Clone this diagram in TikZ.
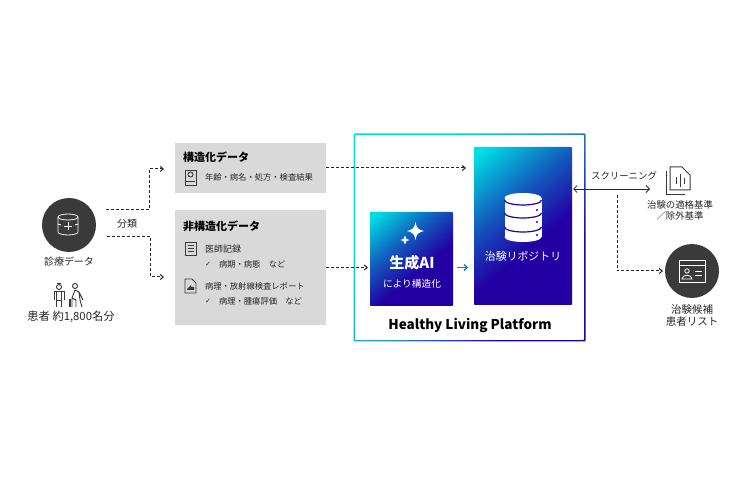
\documentclass[tikz,border=0pt]{standalone}
\usepackage{fontspec}
\setmainfont{Noto Sans CJK JP}
\newfontfamily\symfont{DejaVu Sans}
\usetikzlibrary{positioning, calc, arrows.meta}
\definecolor{graybox}{HTML}{D9D9D9}
\definecolor{darkdisc}{HTML}{3A3A3A}
\definecolor{txtgray}{HTML}{262626}
\definecolor{gradtop}{HTML}{00DCE4}
\definecolor{gradmid}{HTML}{1258BC}
\definecolor{gradend}{HTML}{2200A4}
\definecolor{arrowblue}{HTML}{1C7CC8}
\definecolor{framemid}{HTML}{2898CC}
\pgfdeclareverticalshading{gradfill}{100bp}{color(0bp)=(gradend); color(42bp)=(gradend); color(60bp)=(gradmid); color(82bp)=(gradtop); color(100bp)=(gradtop)}
\pgfdeclareverticalshading{gradframe}{100bp}{color(0bp)=(gradend); color(30bp)=(gradend); color(50bp)=(framemid); color(68bp)=(gradtop); color(100bp)=(gradtop)}
\begin{document}
\begin{tikzpicture}[x=1pt,y=-1pt,
  txt/.style={inner sep=0pt,outer sep=0pt,text=txtgray,font=\fontsize{8.3}{9}\selectfont},
  headtxt/.style={txt,text=black,font=\fontsize{11}{12}\selectfont\bfseries},
  sidetxt/.style={txt,font=\fontsize{10}{11}\selectfont},
  block/.style={rectangle,fill=graybox,inner sep=0pt,outer sep=0pt,minimum width=151pt},
  gradblock/.style={rectangle,rounded corners=0.8pt,inner sep=0pt,outer sep=0pt,shading=gradfill,shading angle=40},
  disc/.style={circle,fill=darkdisc,minimum size=54pt,inner sep=0pt,outer sep=0pt},
  dashline/.style={-{Straight Barb[length=3pt,width=5pt]},densely dashed,line width=1pt,black!85},
  icon/.style={line width=0.9pt,darkdisc}
]
\path [use as bounding box, fill=white] (0,0) rectangle (745,497);

\node (box1) [block, minimum height=50pt] at (250.5,168) {};
\node (box2) [block, minimum height=115pt] at (250.5,267.5) {};

% frame
\path [even odd rule, shading=gradframe, shading angle=50, rounded corners=1pt] (353.5,133.5) rectangle (585.5,341.5) (354.8,134.8) rectangle (584.2,340.2);

\node (ai) [gradblock, minimum width=83pt, minimum height=94pt] at (411.5,259) {};
\node (repo) [gradblock, minimum width=98pt, minimum height=158pt] at (523,226) {};

% left side
\node (data) [disc] at (69,225) {};
\node (datatxt) [sidetxt, below=5pt of data] {診療データ};
\node (patients) [sidetxt, font=\fontsize{11.3}{12}\selectfont] at (71,317) {患者 約1,800名分};
\node (bunrui) [sidetxt] at (127,224) {分類};

\begin{scope}[white, line width=0.8pt]
  \draw (68,217) ellipse (10 and 3);
  \draw (58,217) -- (58,232) arc[start angle=180,end angle=0,x radius=10,y radius=3] -- (78,217);
  \draw (58,224) -- (61,225) (78,224) -- (75,225);
  \draw (64,226) -- (72,226) (68,222) -- (68,230);
\end{scope}

% patient figures
\begin{scope}[icon]
  \draw (59,287) circle (2.5);
  \draw (57,283.5) -- (61,283.5);
  \draw (54,300) -- (54,291.5) -- (64,291.5) -- (64,300) (56.5,291.5) -- (56.5,307) (61.5,291.5) -- (61.5,307) (56.5,300) -- (61.5,300);
  \draw (75,286) circle (2.5);
  \draw (72,307) -- (72,298) -- (75,290) -- (79,292) -- (83,300) (79,292) -- (80,300) -- (82,307) (72,298) -- (76,300) -- (76,307);
  \draw [line width=1.3pt] (70,299) -- (70,307);
\end{scope}

% structured box
\node (head1) [headtxt, anchor=west] at (183,157) {構造化データ};
\node (item1) [txt, anchor=west] at (205,177) {年齢・病名・処方・検査結果};
\draw [icon] (185,170) rectangle (196,185) (186,181) -- (195,181);
\draw [icon] (190.5,174.5) circle (2.5);

% unstructured box
\node (head2) [headtxt, anchor=west] at (183,226) {非構造化データ};
\node (item2) [txt, anchor=west, font=\fontsize{9}{10}\selectfont] at (205,249) {医師記録};
\node (check2) [txt, anchor=west, font=\fontsize{7}{8}\symfont] at (205,264) {✓};
\node (sub2) [txt, anchor=west] at (219,264) {病期・病態　など};
\node (item3) [txt, anchor=west] at (205,286) {病理・放射線検査レポート};
\node (check3) [txt, anchor=west, font=\fontsize{7}{8}\symfont] at (205,301) {✓};
\node (sub3) [txt, anchor=west] at (219,301) {病理・腫瘍評価　など};
\draw [icon] (185,242) rectangle (196,255);
\foreach \y in {245.5,248.5,251.5} \draw [icon] (187.5,\y) -- (193.5,\y);
\draw [icon] (185,279) -- (192,279) -- (196,283) -- (196,293) -- (185,293) -- cycle;
\fill [darkdisc] (187,289) -- (191,285) -- (191,287) -- (194,287) -- (194,290) -- (187,290) -- cycle;

% generated AI box
\fill [white] (415.5,222) .. controls (416.5,228) and (418,229.5) .. (424,231) .. controls (418,232.5) and (416.5,234) .. (415.5,240) .. controls (414.5,234) and (413,232.5) .. (407,231) .. controls (413,229.5) and (414.5,228) .. (415.5,222) -- cycle;
\fill [white] (405,235.5) .. controls (405.5,238.5) and (406.5,239.5) .. (410,240) .. controls (406.5,240.5) and (405.5,241.5) .. (405,244.5) .. controls (404.5,241.5) and (403.5,240.5) .. (400,240) .. controls (403.5,239.5) and (404.5,238.5) .. (405,235.5) -- cycle;
\node (aititle) [txt, text=white, font=\fontsize{15}{17}\selectfont\bfseries] at (412,263) {生成AI};
\node (aisub) [txt, text=white, font=\fontsize{9.7}{11}\selectfont] at (412,284) {により構造化};

% repository box
\fill [white] (523,198) ellipse (18.5 and 5);
\fill [white] (504.5,198) rectangle (541.5,237);
\fill [white] (523,237) ellipse (18.5 and 5);
\foreach \y in {200,213,227} \draw [gradend, line width=1.2pt] (504.5,\y) arc[start angle=180,end angle=0,x radius=18.5,y radius=5];
\foreach \y in {210,222,235} \fill [gradend] (537,\y) circle (1.1);
\node (repotxt) [txt, text=white, font=\fontsize{10.9}{12}\selectfont] at (523,256) {治験リポジトリ};

\node (hlp) [txt, text=black, font=\fontsize{13.5}{15}\selectfont\bfseries] at (470,326) {Healthy Living Platform};

% right side
\coordinate (screenend) at (650,189);
\coordinate (screenmid) at (617,189);
\node (screentxt) [sidetxt, font=\fontsize{9.4}{10}\selectfont] at (624,176) {スクリーニング};
\begin{scope}[icon, line width=1pt]
  \draw (670,167) -- (682,167) -- (690,175) -- (690,190) -- (670,190) -- cycle;
  \draw (666,171) -- (666,195) -- (685,195);
  \draw (676,177) -- (676,184) (680,174) -- (680,187) (684,178) -- (684,184);
\end{scope}
\node (crit1) [txt, font=\fontsize{9.4}{10}\selectfont] at (680,205) {治験の適格基準};
\node (crit2) [txt, font=\fontsize{9.4}{10}\selectfont, below=2pt of crit1] {／除外基準};
\node (list) [disc] at (692,271) {};
\node (list1) [sidetxt, font=\fontsize{10.5}{11}\selectfont] at (692,310) {治験候補};
\node (list2) [sidetxt, font=\fontsize{10.5}{11}\selectfont, below=2pt of list1] {患者リスト};
\begin{scope}[white, line width=0.8pt]
  \draw (679,260) rectangle (705,282) (679,265) -- (705,265);
  \draw (687,271) circle (2.2) (682,279) .. controls (682,274) and (692,274) .. (692,279) -- cycle;
  \draw (695,271) -- (702,271) (695,275) -- (702,275);
\end{scope}

% connectors
\coordinate (split1) at (106,210);
\coordinate (split2) at (107,236.5);
\draw [dashline, shorten >=11pt] (split1) -| (149,169) -- (box1.west |- 0,169);
\draw [dashline, shorten >=11pt] (split2) -| (150,277) -- (box2.west |- 0,277);
\draw [dashline, shorten >=8pt] (box1.east) -- (box1.east -| repo.west);
\draw [dashline, shorten >=2pt] (box2.east) -- (box2.east -| ai.west);
\draw [-{Straight Barb[length=3pt,width=6pt]}, arrowblue, line width=1.3pt, shorten <=4pt, shorten >=6pt] (ai.east |- box2.east) -- (repo.west |- box2.east);
\draw [{Straight Barb[length=3.5pt,width=7pt]}-{Straight Barb[length=3.5pt,width=7pt]}, line width=0.8pt, black!85, shorten <=1pt] (repo.east |- screenend) -- (screenend);
\draw [dashline, shorten >=2pt] (screenmid) ++(0,6) |- (list.west);
\end{tikzpicture}
\end{document}
